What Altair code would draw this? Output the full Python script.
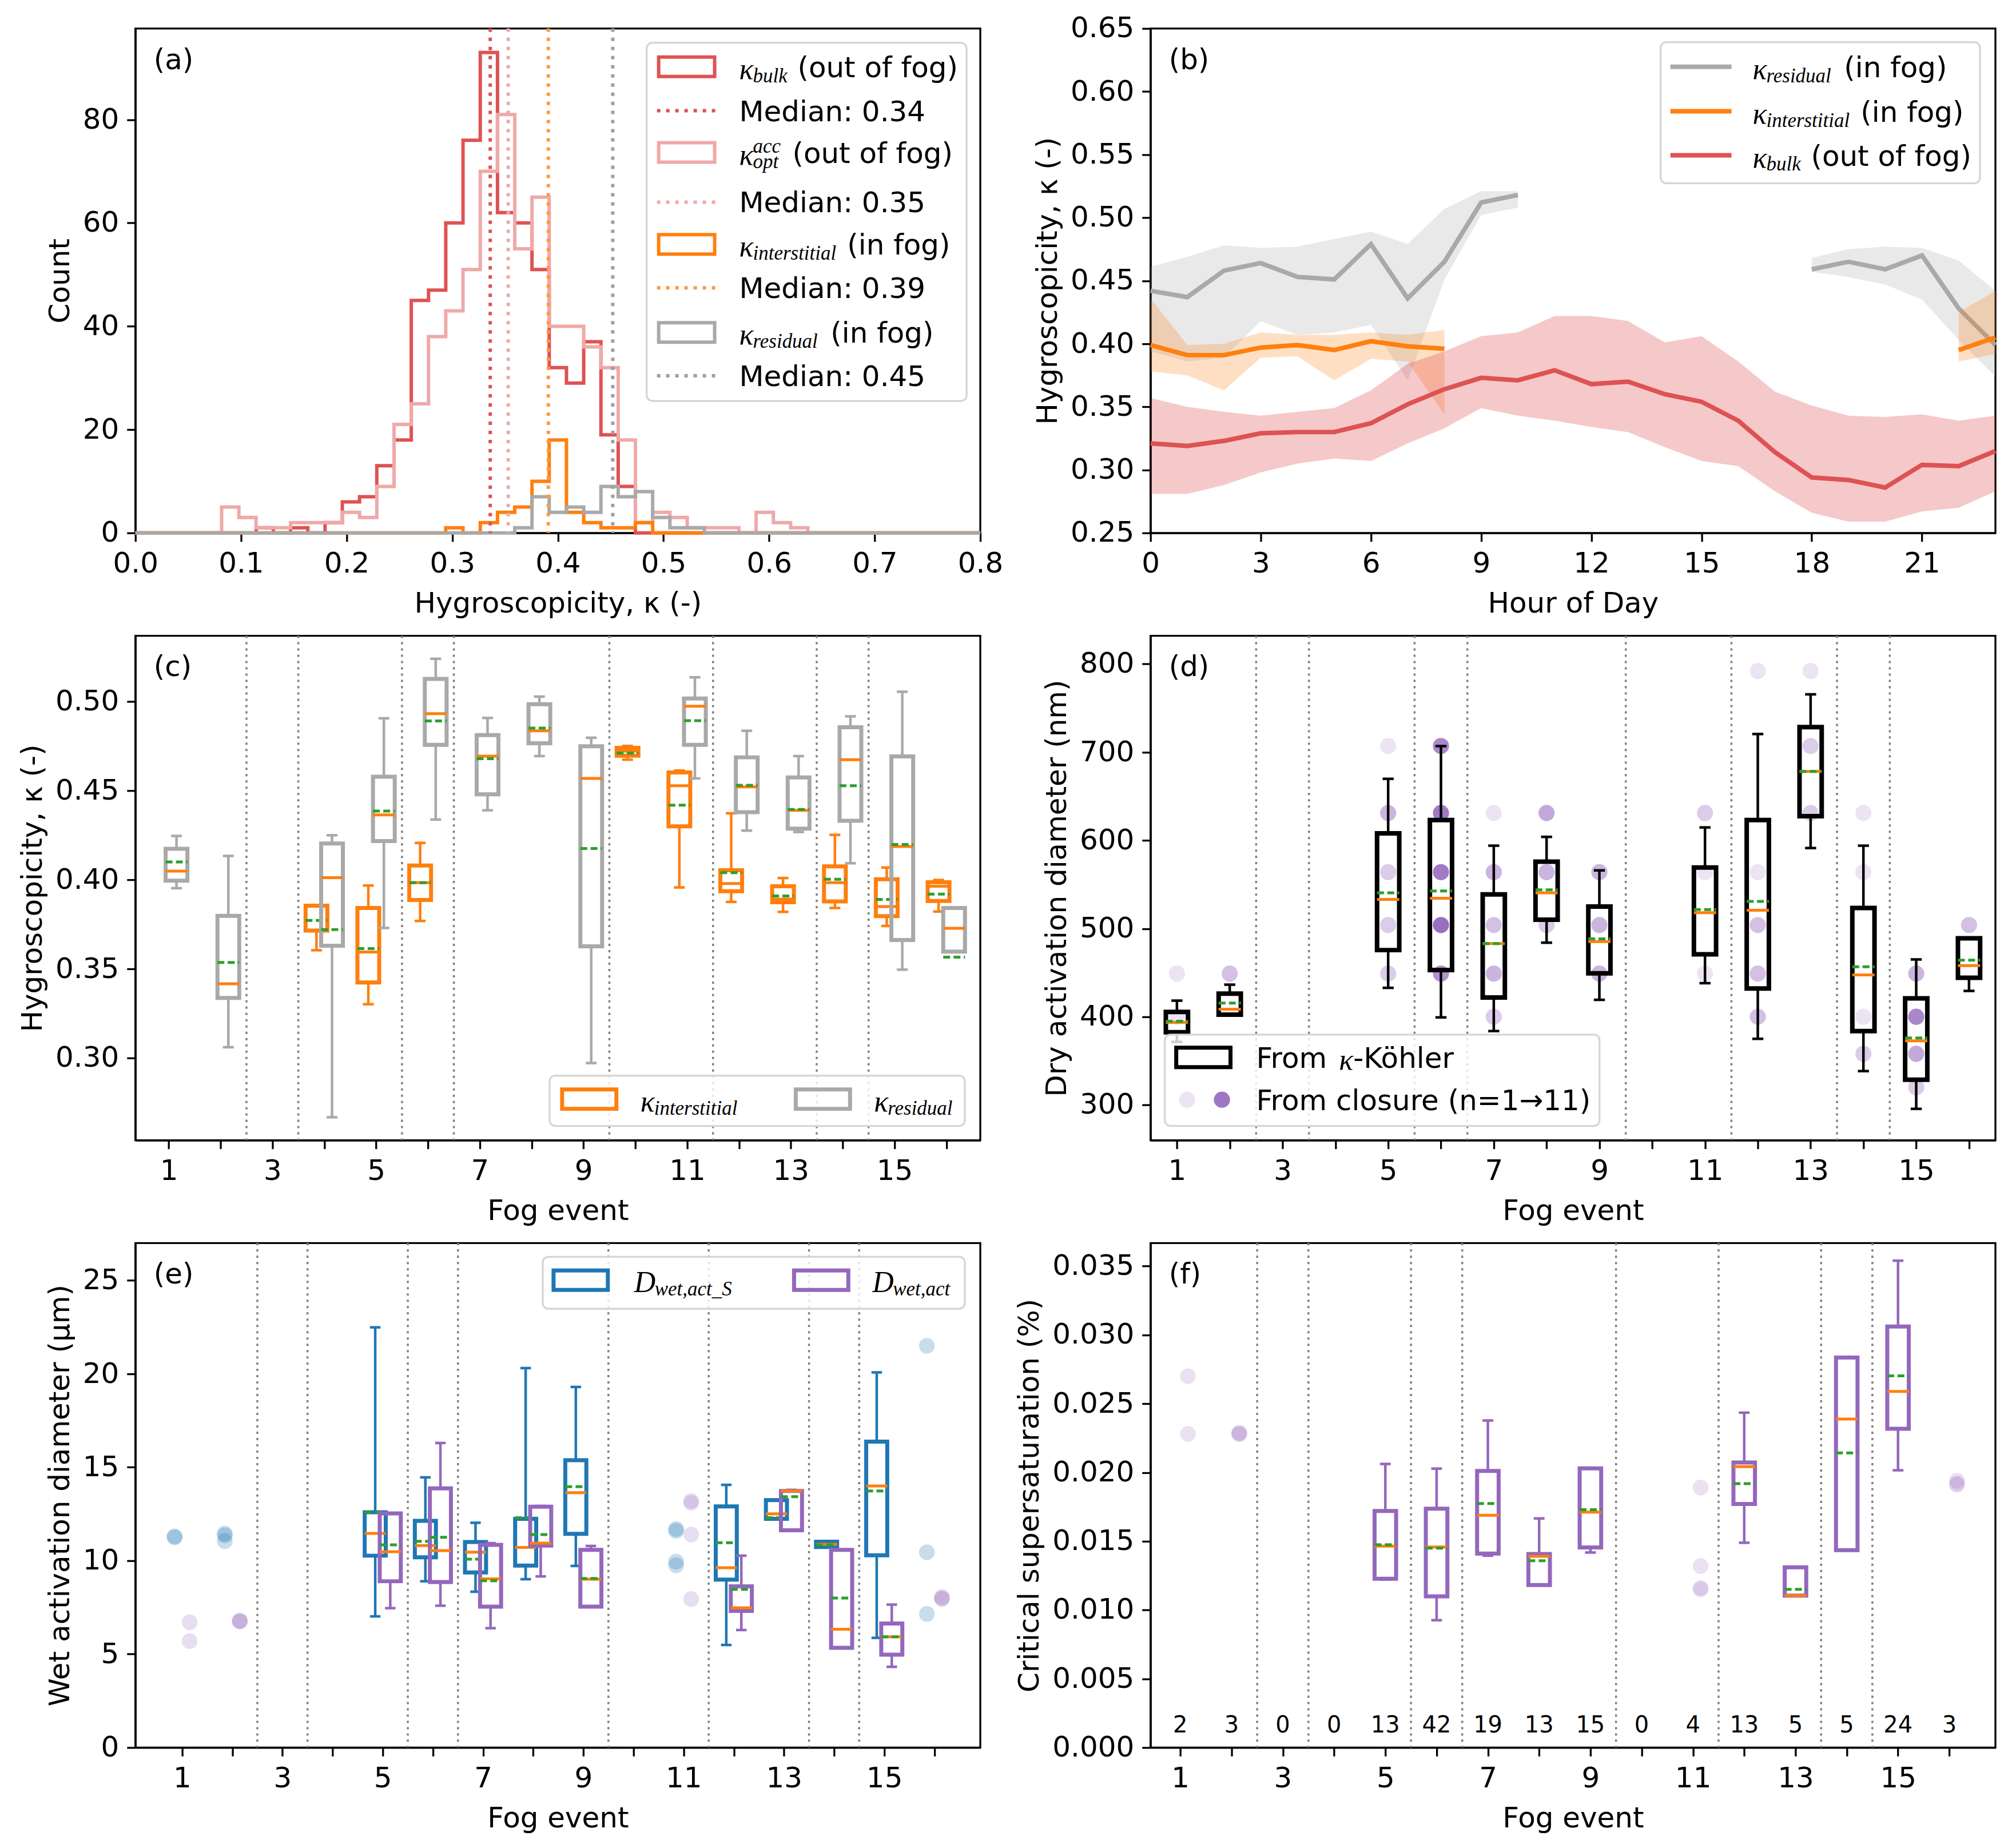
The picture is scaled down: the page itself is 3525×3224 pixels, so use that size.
import altair as alt
import pandas as pd

FONT = "DejaVu Sans"
SERIF = "Liberation Serif"
W, H = 1479, 883

TAB_RED = "#d62728"
RED = "#de5253"       # tab:red drawn at alpha 0.8
PINK = "#efa9a9"      # tab:red drawn at alpha 0.4
ORANGE = "#ff7f0e"
GRAY = "#a9a9a9"
BLUE = "#1f77b4"
PURPLE = "#9467bd"
GREEN = "#2ca02c"
SEP = "#808080"

# ---------------- (a) histograms: 49 equal bins between 0 and 0.8
N_BINS = 49
X_MAX = 0.8
BULK_START = 7
BULK_COUNTS = [1, 0, 1, 0, 2, 6, 7, 13, 18, 45, 47, 60, 76, 93, 62, 60, 51, 32, 29, 37, 19, 9]
OPT_START = 5
OPT_COUNTS = [5, 3, 1, 1, 2, 2, 2, 4, 3, 9, 21, 25, 38, 43, 51, 70, 81, 55, 65, 40,
              40, 36, 32, 18, 2, 4, 3, 1, 1, 1, 0, 4, 2, 1]
INTER_START = 18
INTER_COUNTS = [1, 0, 2, 4, 5, 10, 18, 4, 2, 1, 1, 2]
RESID_START = 22
RESID_COUNTS = [1, 7, 4, 5, 4, 9, 7, 8, 3, 1, 1]
MEDIANS = [0.336, 0.353, 0.391, 0.452]
MEDIAN_LABELS = ["Median: 0.34", "Median: 0.35", "Median: 0.39", "Median: 0.45"]
A_XTICKS = [0.0, 0.1, 0.2, 0.3, 0.4, 0.5, 0.6, 0.7, 0.8]
A_YTICKS = [0, 20, 40, 60, 80]

# ---------------- (b) diurnal cycle, hours 0..23 (None = no data)
HOURS = list(range(24))
NA7 = [None] * 7
NA13 = [None] * 13
RES_MID = [0.442, 0.437, 0.458, 0.464, 0.453, 0.451, 0.479, 0.436, 0.465, 0.512, 0.518] + NA7 + [0.459, 0.465, 0.459, 0.470, 0.428, 0.399]
RES_HI = [0.461, 0.469, 0.478, 0.476, 0.477, 0.483, 0.489, 0.479, 0.507, 0.521, 0.521] + NA7 + [0.468, 0.475, 0.477, 0.476, 0.466, 0.442]
RES_LO = [0.394, 0.386, 0.389, 0.418, 0.407, 0.409, 0.415, 0.371, 0.451, 0.502, 0.508] + NA7 + [0.457, 0.453, 0.447, 0.435, 0.403, 0.374]
INT_MID = [0.399, 0.391, 0.391, 0.397, 0.399, 0.395, 0.402, 0.398, 0.396] + NA13 + [0.395, 0.405]
INT_HI = [0.436, 0.399, 0.400, 0.409, 0.407, 0.407, 0.409, 0.407, 0.411] + NA13 + [0.425, 0.442]
INT_LO = [0.378, 0.375, 0.363, 0.389, 0.390, 0.371, 0.388, 0.386, 0.344] + NA13 + [0.386, 0.392]
BULK_MID = [0.321, 0.319, 0.323, 0.329, 0.330, 0.330, 0.337, 0.352, 0.364, 0.373, 0.371, 0.379,
            0.368, 0.370, 0.360, 0.354, 0.339, 0.314, 0.294, 0.292, 0.286, 0.304, 0.303, 0.315]
BULK_HI = [0.357, 0.350, 0.346, 0.343, 0.346, 0.349, 0.363, 0.384, 0.394, 0.406, 0.409, 0.422,
           0.422, 0.418, 0.401, 0.406, 0.386, 0.362, 0.351, 0.343, 0.342, 0.344, 0.339, 0.343]
BULK_LO = [0.281, 0.281, 0.288, 0.298, 0.305, 0.309, 0.307, 0.321, 0.333, 0.349, 0.343, 0.339,
           0.334, 0.330, 0.318, 0.307, 0.303, 0.283, 0.266, 0.259, 0.259, 0.267, 0.270, 0.283]
B_XTICKS = [0, 3, 6, 9, 12, 15, 18, 21]
B_YTICKS = [0.25, 0.30, 0.35, 0.40, 0.45, 0.50, 0.55, 0.60, 0.65]

# ---------------- fog events
EVENTS = list(range(1, 17))
SEPARATORS = [2.5, 3.5, 5.5, 6.5, 9.5, 11.5, 13.5, 14.5]

# (c) kappa box statistics
C_INT_EVENT = [4, 5, 6, 10, 11, 12, 13, 14, 15, 16]
C_INT_LO = [0.3605, 0.3302, 0.3769, 0.4674, 0.3957, 0.3876, 0.3820, 0.3842, 0.3741, 0.3822]
C_INT_Q1 = [0.3715, 0.3424, 0.3887, 0.4696, 0.4300, 0.3936, 0.3874, 0.3879, 0.3796, 0.3881]
C_INT_MED = [0.3715, 0.3595, 0.3984, 0.4722, 0.4528, 0.3979, 0.3892, 0.3984, 0.3850, 0.3964]
C_INT_MEAN = [0.3772, 0.3614, 0.3984, 0.4711, 0.4419, 0.4040, 0.3909, 0.4003, 0.3890, 0.3920]
C_INT_Q3 = [0.3855, 0.3842, 0.4080, 0.4740, 0.4602, 0.4054, 0.3964, 0.4075, 0.4003, 0.3986]
C_INT_HI = [0.3855, 0.3968, 0.4207, 0.4751, 0.4613, 0.4373, 0.4010, 0.4252, 0.4069, 0.3999]
C_RES_EVENT = [1, 2, 4, 5, 6, 7, 8, 9, 11, 12, 13, 14, 15, 16]
C_RES_LO = [0.3953, 0.3061, 0.2668, 0.3730, 0.4338, 0.4390, 0.4694, 0.2972, 0.4569, 0.4276, 0.4268, 0.4093, 0.3496, 0.3597]
C_RES_Q1 = [0.3995, 0.3337, 0.3630, 0.4217, 0.4757, 0.4480, 0.4766, 0.3627, 0.4757, 0.4379, 0.4287, 0.4331, 0.3662, 0.3597]
C_RES_MED = [0.4049, 0.3417, 0.4012, 0.4364, 0.4932, 0.4694, 0.4836, 0.4569, 0.4974, 0.4521, 0.4390, 0.4674, 0.4187, 0.3728]
C_RES_MEAN = [0.4100, 0.3536, 0.3721, 0.4386, 0.4891, 0.4679, 0.4851, 0.4176, 0.4893, 0.4530, 0.4395, 0.4528, 0.4198, 0.3566]
C_RES_Q3 = [0.4174, 0.3798, 0.4204, 0.4578, 0.5127, 0.4812, 0.4985, 0.4749, 0.5017, 0.4687, 0.4574, 0.4856, 0.4692, 0.3842]
C_RES_HI = [0.4246, 0.4134, 0.4250, 0.4906, 0.5240, 0.4908, 0.5028, 0.4797, 0.5136, 0.4836, 0.4694, 0.4917, 0.5055, 0.3842]
C_YTICKS = [0.30, 0.35, 0.40, 0.45, 0.50]

# (d) dry activation diameter (nm)
D_EVENT = [1, 2, 5, 6, 7, 8, 9, 11, 12, 13, 14, 15, 16]
D_LO = [371.5, 402.4, 432.8, 399.3, 383.8, 484.0, 419.2, 438.1, 375.0, 591.3, 338.4, 295.6, 429.3]
D_Q1 = [382.5, 402.4, 475.6, 453.0, 421.8, 510.0, 449.2, 470.8, 432.0, 627.4, 383.8, 328.7, 444.3]
D_MED = [393.6, 408.6, 533.0, 534.3, 483.0, 540.5, 485.3, 518.0, 520.7, 678.2, 447.4, 372.8, 458.0]
D_MEAN = [394.9, 415.6, 540.5, 542.7, 483.0, 544.0, 488.4, 521.5, 530.8, 678.2, 456.7, 375.9, 464.2]
D_Q3 = [405.5, 426.2, 608.0, 623.0, 538.7, 575.8, 525.0, 569.2, 623.0, 728.5, 523.3, 420.9, 488.9]
D_HI = [418.3, 436.4, 669.8, 706.9, 594.0, 604.0, 566.0, 614.7, 720.6, 765.6, 594.0, 465.0, 488.9]
D_PT_EVENT = [1, 1, 2, 5, 5, 5, 5, 5, 6, 6, 6, 6, 6, 7, 7, 7, 7, 7, 8, 8, 8, 9, 9, 9,
              11, 11, 11, 12, 12, 12, 12, 12, 13, 13, 13, 14, 14, 14, 14, 15, 15, 15, 15, 16]
D_PT_DIAM = [449, 400, 449, 707, 631, 564, 504, 449, 707, 631, 564, 504, 449, 631, 564, 504, 449, 400,
             631, 564, 504, 564, 504, 449, 631, 564, 449, 792, 564, 504, 449, 400, 792, 707, 631,
             631, 564, 400, 358, 449, 400, 358, 320, 504]
D_PT_N = [1, 1, 4, 1, 5, 3, 3, 3, 9, 10, 10, 11, 8, 1, 5, 4, 5, 3, 6, 5, 3, 5, 5, 5,
          3, 1, 1, 1, 1, 4, 4, 4, 1, 3, 3, 1, 1, 1, 3, 5, 9, 6, 3, 4]
D_YTICKS = [300, 400, 500, 600, 700, 800]

# (e) wet activation diameter (um)
E_EVENT = [5, 6, 7, 8, 9, 12, 13, 14, 15]
E_S_LO = [7.02, 8.90, 8.34, 9.01, 9.72, 5.49, 12.24, 10.73, 5.87]
E_S_Q1 = [10.27, 10.18, 9.37, 9.74, 11.44, 8.99, 12.24, 10.73, 10.29]
E_S_MED = [11.46, 10.81, 10.46, 10.71, 13.64, 9.62, 12.51, 10.88, 14.00]
E_S_MEAN = [12.60, 11.04, 10.08, 12.30, 13.96, 10.96, 12.30, 10.85, 13.73]
E_S_Q3 = [12.59, 12.13, 11.00, 12.24, 15.38, 12.91, 13.24, 11.02, 16.37]
E_S_HI = [22.49, 14.46, 12.03, 20.31, 19.30, 14.06, 13.24, 11.02, 20.08]
E_A_LO = [7.46, 7.59, 6.39, 9.16, 7.54, 6.29, 11.63, 5.34, 4.32]
E_A_Q1 = [8.90, 8.86, 7.54, 10.81, 7.54, 7.31, 11.63, 5.34, 4.97]
E_A_MED = [10.48, 10.54, 9.03, 10.94, 9.01, 7.48, 13.73, 6.33, 5.93]
E_A_MEAN = [10.85, 11.25, 8.93, 11.40, 9.05, 8.47, 13.43, 8.00, 5.93]
E_A_Q3 = [12.53, 13.87, 10.85, 12.89, 10.58, 8.63, 13.73, 10.58, 6.64]
E_A_HI = [12.53, 16.30, 10.94, 12.93, 10.79, 10.27, 13.79, 10.58, 7.65]
E_PT_EVENT = [1, 1, 2, 2, 2, 11, 11, 11, 11, 16, 16, 16]
E_PT_S = [11.25, 11.30, 11.45, 11.35, 11.05, 11.60, 11.70, 9.95, 9.75, 21.50, 10.45, 7.15]
E_PT_A = [6.70, 5.70, 6.75, 6.75, 6.80, 13.10, 13.20, 11.40, 7.95, 8.00, 8.05, 7.95]
E_YTICKS = [0, 5, 10, 15, 20, 25]

# (f) critical supersaturation (%)
F_EVENT = [5, 6, 7, 8, 9, 12, 13, 14, 15]
F_LO = [0.01222, 0.00926, 0.01395, 0.01182, 0.01418, 0.01489, 0.01105, 0.01435, 0.02016]
F_Q1 = [0.01227, 0.01099, 0.01410, 0.01182, 0.01455, 0.01771, 0.01105, 0.01435, 0.02318]
F_MED = [0.01464, 0.01458, 0.01689, 0.01390, 0.01712, 0.02042, 0.01105, 0.02389, 0.02589]
F_MEAN = [0.01475, 0.01450, 0.01774, 0.01358, 0.01729, 0.01919, 0.01150, 0.02142, 0.02703]
F_Q3 = [0.01720, 0.01737, 0.02011, 0.01407, 0.02030, 0.02073, 0.01310, 0.02836, 0.03061]
F_HI = [0.02062, 0.02028, 0.02378, 0.01666, 0.02030, 0.02435, 0.01310, 0.02836, 0.03540]
F_PT_EVENT = [1, 1, 2, 2, 2, 11, 11, 11, 11, 16, 16, 16]
F_PT_VAL = [0.0270, 0.0228, 0.0228, 0.0228, 0.0229, 0.0189, 0.0132, 0.0115, 0.0116, 0.0192, 0.0191, 0.0194]
F_COUNTS = [2, 3, 0, 0, 13, 42, 19, 13, 15, 0, 4, 13, 5, 5, 24, 3]
F_YTICKS = [0.0, 0.005, 0.010, 0.015, 0.020, 0.025, 0.030, 0.035]

ONE = pd.DataFrame({"k": [0]})
ODD_ONLY = "datum.value % 2 == 1 ? datum.label : ''"


# ---------------- helpers
def text(x, y, s, size=50, font=FONT, italic=False, baseline="alphabetic", align="left"):
    return alt.Chart(ONE).mark_text(
        text=s, font=font, fontSize=size, fontStyle="italic" if italic else "normal",
        baseline=baseline, align=align, color="black"
    ).encode(x=alt.value(x), y=alt.value(y))


def math(x, y, base, sub, sup=None, dx=24):
    out = [text(x, y + 21, base, 52, SERIF, True), text(x + dx, y + 27, sub, 35, SERIF, True)]
    if sup:
        out.append(text(x + dx, y, sup, 35, SERIF, True))
    return out


def frame_box(x1, x2, y1, y2):
    return alt.Chart(ONE).mark_rect(
        fill="white", fillOpacity=0.8, stroke="#d5d5d5", strokeWidth=3.3, cornerRadius=10
    ).encode(x=alt.value(x1), x2=alt.value(x2), y=alt.value(y1), y2=alt.value(y2))


def patch(x1, x2, yc, color, sw=6):
    return alt.Chart(ONE).mark_rect(fillOpacity=0, stroke=color, strokeWidth=sw).encode(
        x=alt.value(x1 + 3), x2=alt.value(x2 - 3), y=alt.value(yc - 17), y2=alt.value(yc + 17))


def seg(x1, x2, y, color, sw, dash=None):
    kw = {"color": color, "strokeWidth": sw}
    if dash:
        kw["strokeDash"] = dash
    return alt.Chart(ONE).mark_rule(**kw).encode(x=alt.value(x1), x2=alt.value(x2), y=alt.value(y))


def dot(x, y, opacity):
    return alt.Chart(ONE).mark_circle(color=PURPLE, size=800, opacity=opacity).encode(
        x=alt.value(x), y=alt.value(y))


def event_axis():
    return alt.Axis(values=EVENTS, labelExpr=ODD_ONLY, title="Fog event")


def box_frame(events, offset, lo, q1, med, mean, q3, hi):
    return pd.DataFrame({"pos": [e + offset for e in events], "lo": lo, "q1": q1,
                         "med": med, "mean": mean, "q3": q3, "hi": hi})


def box_layers(frame, color, xs, xa, ys, ya, half=0.21, box_w=7.0, wh_w=4.5):
    base = alt.Chart(frame).transform_calculate(
        bl=f"datum.pos - {half}", br=f"datum.pos + {half}",
        cl=f"datum.pos - {half / 2}", cr=f"datum.pos + {half / 2}")

    def X(f):
        return alt.X(f, scale=xs, axis=xa)

    def Y(f):
        return alt.Y(f, scale=ys, axis=ya)

    return [
        base.mark_rule(color=color, strokeWidth=wh_w).encode(x=X("pos:Q"), y=Y("lo:Q"), y2="q1:Q"),
        base.mark_rule(color=color, strokeWidth=wh_w).encode(x=X("pos:Q"), y=Y("q3:Q"), y2="hi:Q"),
        base.mark_rule(color=color, strokeWidth=wh_w).encode(x=X("cl:Q"), x2="cr:Q", y=Y("lo:Q")),
        base.mark_rule(color=color, strokeWidth=wh_w).encode(x=X("cl:Q"), x2="cr:Q", y=Y("hi:Q")),
        base.mark_rect(fillOpacity=0, stroke=color, strokeWidth=box_w).encode(
            x=X("bl:Q"), x2="br:Q", y=Y("q1:Q"), y2="q3:Q"),
        base.mark_rule(color=ORANGE, strokeWidth=5).encode(x=X("bl:Q"), x2="br:Q", y=Y("med:Q")),
        base.mark_rule(color=GREEN, strokeWidth=5, strokeDash=[12, 6]).encode(
            x=X("bl:Q"), x2="br:Q", y=Y("mean:Q")),
    ]


def separators(xs, xa):
    return alt.Chart(pd.DataFrame({"sep": SEPARATORS})).mark_rule(
        color=SEP, strokeWidth=3.5, strokeDash=[4, 7]
    ).encode(x=alt.X("sep:Q", scale=xs, axis=xa))


# ---------------- (a)
xs_a = alt.Scale(domain=[0, X_MAX], nice=False, zero=False)
xa_a = alt.Axis(values=A_XTICKS, format=".1f", title="Hygroscopicity, κ (-)")
ys_a = alt.Scale(domain=[0, 97.65], nice=False)
ya_a = alt.Axis(values=A_YTICKS, title="Count")


def hist_frame(start, counts):
    edges, vals = [], []
    for k in range(N_BINS + 1):
        i = k - start
        edges.append(k * X_MAX / N_BINS)
        vals.append(counts[i] if 0 <= i < len(counts) else 0)
    return pd.DataFrame({"edge": edges, "count": vals})


a_layers = []
for start, counts, color in [(BULK_START, BULK_COUNTS, RED), (OPT_START, OPT_COUNTS, PINK),
                             (INTER_START, INTER_COUNTS, ORANGE), (RESID_START, RESID_COUNTS, GRAY)]:
    a_layers.append(alt.Chart(hist_frame(start, counts)).mark_line(
        interpolate="step-after", color=color, strokeWidth=6
    ).encode(x=alt.X("edge:Q", scale=xs_a, axis=xa_a), y=alt.Y("count:Q", scale=ys_a, axis=ya_a)))
for m, color in zip(MEDIANS, [RED, PINK, "#ff9940", "#a0a0a0"]):
    a_layers.append(alt.Chart(pd.DataFrame({"m": [m]})).mark_rule(
        color=color, strokeWidth=6, strokeDash=[6, 10]
    ).encode(x=alt.X("m:Q", scale=xs_a, axis=xa_a)))

ROWS_A = [67, 144, 217, 304, 378, 454, 532, 608]
LX1, LX2, LT = 913, 1017, 1057
a_layers.append(frame_box(895, 1455, 25, 652))
a_layers += [patch(LX1, LX2, ROWS_A[0], RED)] + math(LT, ROWS_A[0], "κ", "bulk") + [text(LT + 102, ROWS_A[0] + 18, "(out of fog)")]
a_layers += [seg(LX1, LX2, ROWS_A[1], RED, 6, [6, 10]), text(LT, ROWS_A[1] + 18, MEDIAN_LABELS[0])]
a_layers += [patch(LX1, LX2, ROWS_A[2], PINK)] + math(LT, ROWS_A[2], "κ", "opt", "acc") + [text(LT + 93, ROWS_A[2] + 18, "(out of fog)")]
a_layers += [seg(LX1, LX2, ROWS_A[3], PINK, 6, [6, 10]), text(LT, ROWS_A[3] + 18, MEDIAN_LABELS[1])]
a_layers += [patch(LX1, LX2, ROWS_A[4], ORANGE)] + math(LT, ROWS_A[4], "κ", "interstitial") + [text(LT + 189, ROWS_A[4] + 18, "(in fog)")]
a_layers += [seg(LX1, LX2, ROWS_A[5], "#ff9940", 6, [6, 10]), text(LT, ROWS_A[5] + 18, MEDIAN_LABELS[2])]
a_layers += [patch(LX1, LX2, ROWS_A[6], GRAY)] + math(LT, ROWS_A[6], "κ", "residual") + [text(LT + 160, ROWS_A[6] + 18, "(in fog)")]
a_layers += [seg(LX1, LX2, ROWS_A[7], "#a0a0a0", 6, [6, 10]), text(LT, ROWS_A[7] + 18, MEDIAN_LABELS[3])]
a_layers.append(text(32, 56, "(a)", baseline="middle"))
panel_a = alt.layer(*a_layers).properties(width=W, height=H)

# ---------------- (b)
xs_b = alt.Scale(domain=[0, 23], nice=False, zero=False)
xa_b = alt.Axis(values=B_XTICKS, format="d", title="Hour of Day")
ys_b = alt.Scale(domain=[0.25, 0.65], nice=False, zero=False)
ya_b = alt.Axis(values=B_YTICKS, format=".2f", title="Hygroscopicity, κ (-)")


def band_frame(mid, lo, hi):
    rows, seg_id, prev = [], 0, False
    for h, m, l, u in zip(HOURS, mid, lo, hi):
        if m is None:
            if prev:
                seg_id += 1
            prev = False
            continue
        prev = True
        rows.append({"hour": h, "mid": m, "lo": l, "hi": u, "seg": seg_id})
    return pd.DataFrame(rows)


b_layers = []
for mid, lo, hi, band_color, line_color in [(RES_MID, RES_LO, RES_HI, GRAY, GRAY),
                                            (INT_MID, INT_LO, INT_HI, ORANGE, ORANGE),
                                            (BULK_MID, BULK_LO, BULK_HI, TAB_RED, RED)]:
    fr = band_frame(mid, lo, hi)
    b_layers.append(alt.Chart(fr).mark_area(color=band_color, opacity=0.25).encode(
        x=alt.X("hour:Q", scale=xs_b, axis=xa_b), y=alt.Y("lo:Q", scale=ys_b, axis=ya_b),
        y2="hi:Q", detail="seg:N"))
    b_layers.append(alt.Chart(fr).mark_line(color=line_color, strokeWidth=8).encode(
        x=alt.X("hour:Q", scale=xs_b, axis=xa_b), y=alt.Y("mid:Q", scale=ys_b, axis=ya_b),
        detail="seg:N"))

ROWS_B = [67, 145, 222]
BX1, BX2, BT = 910, 1017, 1054
b_layers.append(frame_box(893, 1452, 24, 271))
b_layers += [seg(BX1, BX2, ROWS_B[0], GRAY, 8)] + math(BT, ROWS_B[0], "κ", "residual") + [text(BT + 160, ROWS_B[0] + 18, "(in fog)")]
b_layers += [seg(BX1, BX2, ROWS_B[1], ORANGE, 8)] + math(BT, ROWS_B[1], "κ", "interstitial") + [text(BT + 189, ROWS_B[1] + 18, "(in fog)")]
b_layers += [seg(BX1, BX2, ROWS_B[2], RED, 8)] + math(BT, ROWS_B[2], "κ", "bulk") + [text(BT + 102, ROWS_B[2] + 18, "(out of fog)")]
b_layers.append(text(32, 56, "(b)", baseline="middle"))
panel_b = alt.layer(*b_layers).properties(width=W, height=H)

# ---------------- (c)
xs_c = alt.Scale(domain=[0.357, 16.655], nice=False, zero=False)
xa_c = event_axis()
ys_c = alt.Scale(domain=[0.2539, 0.5369], nice=False, zero=False)
ya_c = alt.Axis(values=C_YTICKS, format=".2f", title="Hygroscopicity, κ (-)")
c_layers = [separators(xs_c, xa_c)]
c_layers += box_layers(box_frame(C_INT_EVENT, -0.15, C_INT_LO, C_INT_Q1, C_INT_MED, C_INT_MEAN, C_INT_Q3, C_INT_HI),
                       ORANGE, xs_c, xa_c, ys_c, ya_c)
c_layers += box_layers(box_frame(C_RES_EVENT, 0.15, C_RES_LO, C_RES_Q1, C_RES_MED, C_RES_MEAN, C_RES_Q3, C_RES_HI),
                       GRAY, xs_c, xa_c, ys_c, ya_c)
c_layers.append(frame_box(725, 1452, 770, 858))
c_layers += [patch(744, 845, 811, ORANGE, 7)] + math(884, 811, "κ", "interstitial")
c_layers += [patch(1153, 1254, 811, GRAY, 7)] + math(1293, 811, "κ", "residual")
c_layers.append(text(32, 56, "(c)", baseline="middle"))
panel_c = alt.layer(*c_layers).properties(width=W, height=H)

# ---------------- (d)
xs_d = alt.Scale(domain=[0.5, 16.5], nice=False, zero=False)
xa_d = event_axis()
ys_d = alt.Scale(domain=[260, 832], nice=False, zero=False)
ya_d = alt.Axis(values=D_YTICKS, title="Dry activation diameter (nm)")
d_points = pd.DataFrame({"pos": D_PT_EVENT, "val": D_PT_DIAM, "n": D_PT_N})
d_layers = [separators(xs_d, xa_d)]
d_layers.append(alt.Chart(d_points).mark_circle(color=PURPLE, size=800).encode(
    x=alt.X("pos:Q", scale=xs_d, axis=xa_d), y=alt.Y("val:Q", scale=ys_d, axis=ya_d),
    opacity=alt.Opacity("n:Q", scale=alt.Scale(domain=[1, 11], range=[0.18, 0.95]), legend=None)))
d_layers += box_layers(box_frame(D_EVENT, 0.0, D_LO, D_Q1, D_MED, D_MEAN, D_Q3, D_HI),
                       "black", xs_d, xa_d, ys_d, ya_d, box_w=8.0)
d_layers.append(frame_box(25, 786, 698, 858))
d_layers += [patch(42, 143, 738, "black", 7), text(185, 756, "From "),
             text(330, 759, "κ", 52, SERIF, True), text(355, 756, "-Köhler")]
d_layers += [dot(64, 812, 0.18), dot(125, 812, 0.9), text(185, 830, "From closure (n=1→11)")]
d_layers.append(text(32, 56, "(d)", baseline="middle"))
panel_d = alt.layer(*d_layers).properties(width=W, height=H)

# ---------------- (e)
xs_e = alt.Scale(domain=[0.068, 16.915], nice=False, zero=False)
xa_e = event_axis()
ys_e = alt.Scale(domain=[0, 27], nice=False)
ya_e = alt.Axis(values=E_YTICKS, title="Wet activation diameter (μm)")
e_layers = [separators(xs_e, xa_e)]
e_layers.append(alt.Chart(pd.DataFrame({"pos": [e - 0.15 for e in E_PT_EVENT], "val": E_PT_S})).mark_circle(
    color=BLUE, size=760, opacity=0.25).encode(
    x=alt.X("pos:Q", scale=xs_e, axis=xa_e), y=alt.Y("val:Q", scale=ys_e, axis=ya_e)))
e_layers.append(alt.Chart(pd.DataFrame({"pos": [e + 0.15 for e in E_PT_EVENT], "val": E_PT_A})).mark_circle(
    color=PURPLE, size=760, opacity=0.22).encode(
    x=alt.X("pos:Q", scale=xs_e, axis=xa_e), y=alt.Y("val:Q", scale=ys_e, axis=ya_e)))
e_layers += box_layers(box_frame(E_EVENT, -0.15, E_S_LO, E_S_Q1, E_S_MED, E_S_MEAN, E_S_Q3, E_S_HI),
                       BLUE, xs_e, xa_e, ys_e, ya_e)
e_layers += box_layers(box_frame(E_EVENT, 0.15, E_A_LO, E_A_Q1, E_A_MED, E_A_MEAN, E_A_Q3, E_A_HI),
                       PURPLE, xs_e, xa_e, ys_e, ya_e)
e_layers.append(frame_box(713, 1452, 24, 115))
e_layers += [patch(729, 830, 65, BLUE, 7)] + math(873, 65, "D", "wet,act_S", dx=36)
e_layers += [patch(1150, 1251, 65, PURPLE, 7)] + math(1290, 65, "D", "wet,act", dx=36)
e_layers.append(text(32, 56, "(e)", baseline="middle"))
panel_e = alt.layer(*e_layers).properties(width=W, height=H)

# ---------------- (f)
xs_f = alt.Scale(domain=[0.42, 16.9], nice=False, zero=False)
xa_f = event_axis()
ys_f = alt.Scale(domain=[0, 0.03668], nice=False)
ya_f = alt.Axis(values=F_YTICKS, format=".3f", title="Critical supersaturation (%)")
f_layers = [separators(xs_f, xa_f)]
f_layers.append(alt.Chart(pd.DataFrame({"pos": [e + 0.15 for e in F_PT_EVENT], "val": F_PT_VAL})).mark_circle(
    color=PURPLE, size=760, opacity=0.2).encode(
    x=alt.X("pos:Q", scale=xs_f, axis=xa_f), y=alt.Y("val:Q", scale=ys_f, axis=ya_f)))
f_layers += box_layers(box_frame(F_EVENT, 0.0, F_LO, F_Q1, F_MED, F_MEAN, F_Q3, F_HI),
                       PURPLE, xs_f, xa_f, ys_f, ya_f)
f_layers.append(alt.Chart(pd.DataFrame({"pos": EVENTS, "n": F_COUNTS})).mark_text(
    font=FONT, fontSize=40, baseline="middle", align="center", color="black").encode(
    x=alt.X("pos:Q", scale=xs_f, axis=xa_f), y=alt.value(845), text="n:N"))
f_layers.append(text(32, 56, "(f)", baseline="middle"))
panel_f = alt.layer(*f_layers).properties(width=W, height=H)

chart = alt.concat(
    panel_a, panel_b, panel_c, panel_d, panel_e, panel_f,
    columns=2, spacing={"row": 180, "column": 298}, bounds="flush"
).properties(
    padding={"left": 23, "top": 13, "right": 10, "bottom": 10}
).configure_axis(
    labelFont=FONT, titleFont=FONT, labelFontSize=50, titleFontSize=50,
    titleFontWeight="normal", labelColor="black", titleColor="black",
    domainColor="black", domainWidth=3.3, tickColor="black", tickWidth=3.3,
    tickSize=15, labelPadding=14, grid=False, labelFlush=False, labelOverlap=False
).configure_axisX(
    titlePadding=20
).configure_axisY(
    titlePadding=14
).configure_view(
    stroke="black", strokeWidth=3.3
)

chart.save("out.html", embed_options={"renderer": "svg", "actions": False})
